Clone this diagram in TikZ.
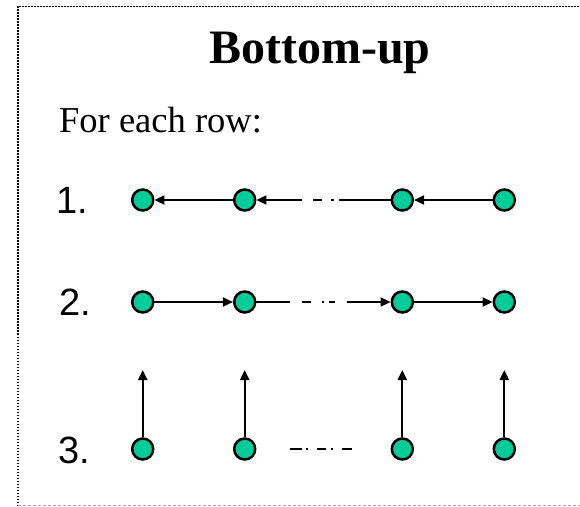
\documentclass[tikz,border=0pt]{standalone}
\usepackage{fontspec}
\setmainfont{Liberation Serif}
\newfontfamily\arialf{Liberation Sans}
\usetikzlibrary{arrows.meta}
\definecolor{teal1}{HTML}{00CC99}
\tikzset{
  dot/.style={circle, draw=black, fill=teal1, line width=2.5pt, minimum size=21pt, inner sep=0pt},
  conn/.style={line width=2pt, -{Triangle[length=10pt,width=9pt]}},
  numlabel/.style={anchor=base west, inner sep=0pt, font=\arialf\fontsize{38}{40}\selectfont},
}
\begin{document}
\begin{tikzpicture}[x=1pt,y=-1pt]
\useasboundingbox (0,0) rectangle (580,506);
% frame
\coordinate (ftl) at (18,6.5);
\coordinate (ftr) at (582,6.5);
\coordinate (fbl) at (18,505);
\coordinate (fbr) at (582,505);
\draw[line width=1.8pt, dash pattern=on 1.7pt off 1.3pt] (ftr) -- (ftl) -- (fbl);
\draw[line width=1pt, gray!70, dash pattern=on 3pt off 2pt] (fbl) -- (fbr);
% texts
\node[anchor=base, inner sep=0pt, font=\bfseries\fontsize{48}{50}\selectfont] (title) at (320,63) {Bottom-up};
\node[anchor=base west, inner sep=0pt, font=\fontsize{36.5}{38}\selectfont] (intro) at (59,132) {For each row:};
\node[numlabel] (n1) at (56,213) {1.};
\node[numlabel] (n2) at (59,315) {2.};
\node[numlabel] (n3) at (58.5,463) {3.};
% nodes
\foreach \i/\x in {1/142.7,2/244.7,3/402.3,4/504.3}{
  \node[dot] (a\i) at (\x,200) {};
  \node[dot] (b\i) at (\x,302) {};
  \node[dot] (c\i) at (\x,449) {};
  \coordinate (t\i) at (\x,370);
}
% row 1
\draw[conn] (a2) -- (a1);
\draw[conn, dash pattern=on 52pt off 5pt on 3pt off 9pt on 9pt off 11pt on 60pt] (a3) -- (a2);
\draw[conn] (a4) -- (a3);
% row 2
\draw[conn] (b1) -- (b2);
\draw[conn, dash pattern=on 34pt off 12pt on 9pt off 11pt on 2pt off 5pt on 6pt off 12pt on 60pt] (b2) -- (b3);
\draw[conn] (b3) -- (b4);
% row 3
\foreach \i in {1,2,3,4}{
  \draw[conn] (c\i) -- (t\i);
}
\coordinate (d1) at (290,449);
\coordinate (d2) at (352,449);
\draw[line width=2pt, dash pattern=on 12pt off 4pt on 2pt off 9pt on 9pt off 5pt on 2pt off 9pt on 10pt] (d1) -- (d2);
\end{tikzpicture}
\end{document}
